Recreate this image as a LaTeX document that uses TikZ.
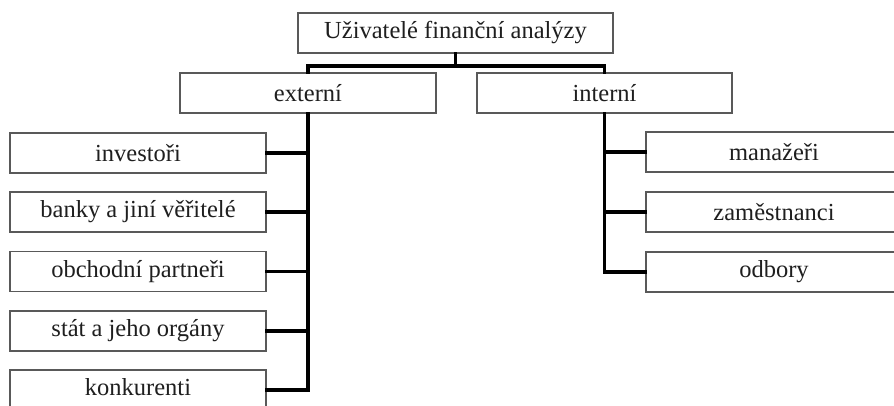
\documentclass[tikz,border=0pt]{standalone}
\usepackage{fontspec}
\setmainfont{Liberation Serif}
\usetikzlibrary{calc}
\begin{document}
\begin{tikzpicture}[x=1pt,y=-1pt,
  box/.style={draw=black!65, line width=1.6pt, fill=white, rectangle, inner sep=0pt,
    minimum width=256pt, minimum height=40pt, font=\fontsize{24.5}{28}\selectfont, text=black!88},
  bar/.style={line width=3.6pt, black, line cap=rect}]
\useasboundingbox (0,0) rectangle (894,406);
\clip (0,0) rectangle (894,406);
\fill[white] (0,0) rectangle (894,406);
\node[box, minimum width=315pt] (top) at (455.5,33) {Uživatelé finanční analýzy};
\node[box] (ext) at (308,93) {externí};
\node[box, minimum width=255pt] (int) at (604.5,93) {interní};
\node[box] (e1) at (138,153) {investoři};
\node[box] (e2) at (138,212) {banky a jiní věřitelé};
\node[box] (e3) at (138,271.5) {obchodní partneři};
\node[box] (e4) at (138,331) {stát a jeho orgány};
\node[box] (e5) at (138,390) {\raisebox{6pt}{konkurenti}};
\node[box] (i1) at (774,152) {manažeři};
\node[box] (i2) at (774,212) {zaměstnanci};
\node[box] (i3) at (774,272) {odbory};
\coordinate (hub) at ($(top.south)+(0,12)$);
\draw[bar] (top.south) -- (hub);
\draw[bar] (ext.north) -- (ext.north |- hub) -- (int.north |- hub) -- (int.north);
\draw[bar] (ext.south) -- (ext.south |- e5.east) -- (e5.east);
\foreach \n in {e1,e2,e3,e4} \draw[bar] (\n.east) -- (ext.south |- \n.east);
\draw[bar] (int.south) -- (int.south |- i3.west) -- (i3.west);
\foreach \n in {i1,i2} \draw[bar] (\n.west) -- (int.south |- \n.west);
\end{tikzpicture}
\end{document}
